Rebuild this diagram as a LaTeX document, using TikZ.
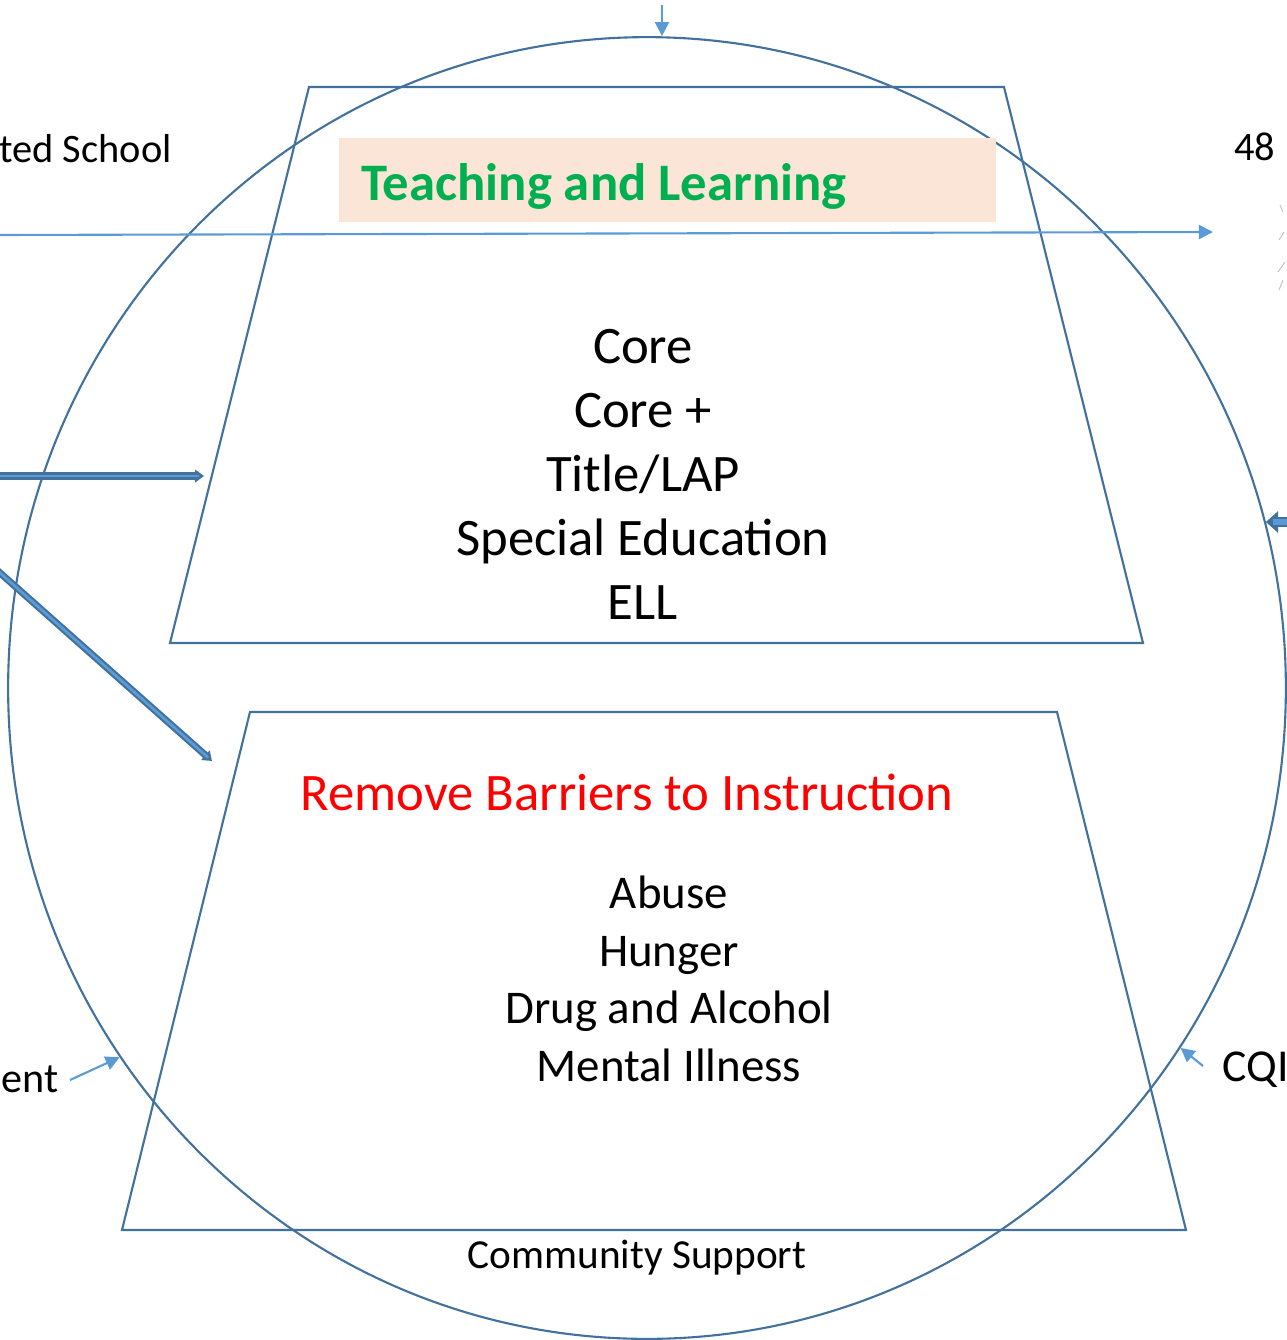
\documentclass[tikz,border=0pt]{standalone}
\usepackage{fontspec}
\setmainfont{Carlito}
\usetikzlibrary{positioning,shapes.geometric,arrows.meta}

\definecolor{frameblue}{HTML}{41719C}
\definecolor{lineblue}{HTML}{5B9BD5}
\definecolor{peach}{HTML}{FBE5D6}
\definecolor{titlegreen}{HTML}{00B050}

\begin{document}
\begin{tikzpicture}[x=0.02cm, y=-0.02cm,
		outline/.style={draw=frameblue, line width=1.2pt},
		thinarrow/.style={draw=lineblue, line width=1.2pt, -{Triangle[length=8pt, width=8pt]}},
		blockarrow/.style={draw=frameblue, line width=4pt, -{Triangle[length=5pt, width=7pt]},
			postaction={draw=lineblue, line width=1.6pt, shorten >=3pt, -}},
		bigtext/.style={inner sep=0pt, anchor=base, font=\fontsize{30}{36}\selectfont},
		smalltext/.style={inner sep=0pt, anchor=base, font=\fontsize{26.7}{32}\selectfont},
		sidetext/.style={inner sep=0pt, font=\fontsize{23}{28}\selectfont},
		]
		\useasboundingbox (0,0) rectangle (1287,1340);
		\clip (0,0) rectangle (1287,1340);
		
		%Ring
		\node[ellipse, outline, inner sep=0pt, minimum width=25.56cm, minimum height=26.04cm] (ring) at (647,688) {};
		
		%Upper trapezoid
		\draw[outline] (309,87) -- (1004,87) -- (1143,643) -- (170,643) -- cycle;
		\node[fill=peach, inner sep=0pt, minimum width=13.14cm, minimum height=1.68cm] (titlebox) at (667.5,180) {};
		\node[bigtext, text=titlegreen, font=\fontsize{30}{36}\selectfont\bfseries] (title) at (604,200) {Teaching and Learning};
		\node[bigtext] (core)     at (643,363) {Core};
		\node[bigtext] (coreplus) at (643,427) {Core +};
		\node[bigtext] (lap)      at (643,491) {Title/LAP};
		\node[bigtext] (sped)     at (643,555) {Special Education};
		\node[bigtext] (ell)      at (643,619) {ELL};
		
		%Lower trapezoid
		\draw[outline] (250,712) -- (1057,712) -- (1186,1230) -- (122,1230) -- cycle;
		\node[bigtext, text=red] (barriers) at (627,810) {Remove Barriers to Instruction};
		\node[smalltext] (abuse)   at (669,908) {Abuse};
		\node[smalltext] (hunger)  at (669,966) {Hunger};
		\node[smalltext] (drug)    at (669,1023) {Drug and Alcohol};
		\node[smalltext] (mental)  at (669,1081) {Mental Illness};
		\node[inner sep=0pt, anchor=base, font=\fontsize{23.5}{28}\selectfont] (community) at (637,1268) {Community Support};
		
		%Side labels
		\node[sidetext, anchor=base east] (school) at (172,162) {ted School};
		\node[sidetext, anchor=base west] (count)  at (1234,160) {48};
		\node[sidetext, anchor=base west, font=\fontsize{26}{30}\selectfont] (cqi) at (1222,1081) {CQI};
		\node[sidetext, anchor=base west, font=\fontsize{24}{30}\selectfont] (ent) at (1,1092) {ent};
		
		%Sketch at the right edge
		\draw[gray!45, line width=0.6pt] (1280,205) -- (1283,212) (1284,232) -- (1279,240) (1285,262) -- (1278,272) (1283,280) -- (1279,290);
		
		%Arrow ends
		\coordinate (topin)   at (662,5);
		\coordinate (westin)  at (-5,235);
		\coordinate (sketch)  at (1213,232);
		\coordinate (leftin)  at (-10,476);
		\coordinate (upleft)  at (204,476);
		\coordinate (diagin)  at (-10,564);
		\coordinate (lowleft) at (212,761);
		\coordinate (cqiin)   at (1300,522);
		\coordinate (entout)  at (70,1080);
		\coordinate (cqiout)  at (1203,1066);
		
		%Arrows
		\draw[thinarrow] (topin) -- (topin |- ring.north);
		\draw[thinarrow] (westin) -- (sketch);
		\draw[blockarrow] (leftin) -- (upleft);
		\draw[blockarrow] (diagin) -- (lowleft);
		\draw[draw=frameblue, line width=6pt, -{Triangle[length=7pt, width=12pt]},
			postaction={draw=lineblue, line width=3pt, shorten >=4pt, -}] (cqiin) -- (cqiin -| ring.15);
		\draw[thinarrow] (entout) -- (ring.215);
		\draw[thinarrow] (cqiout) -- (ring.-34);
		\end{tikzpicture}
\end{document}
